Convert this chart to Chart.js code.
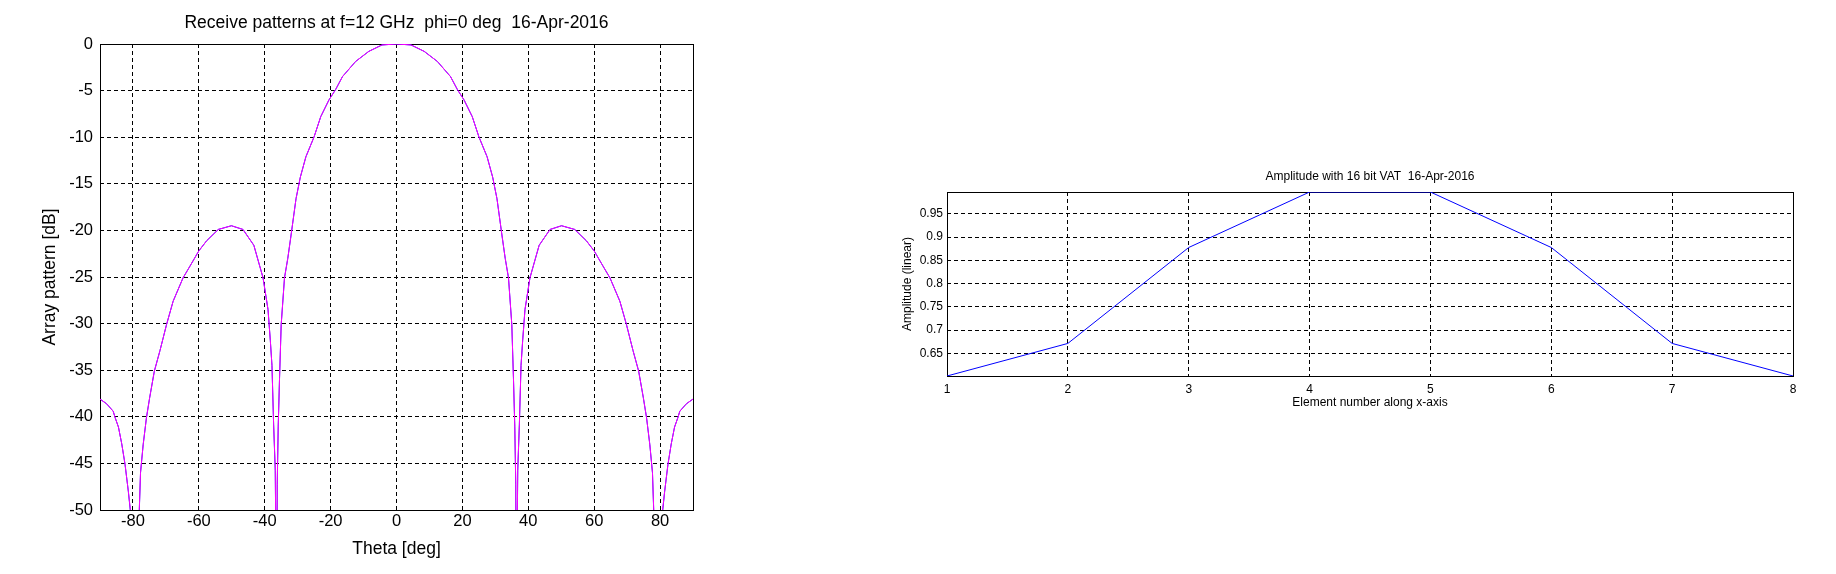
<!DOCTYPE html>
<html lang="en">
<head>
    <meta charset="UTF-8">
    <title>Receive patterns and amplitude taper</title>
    <script src="https://cdn.jsdelivr.net/npm/chart.js"></script>
    <style>
        html, body { margin: 0; padding: 0; background: #fff; }
        body { width: 1836px; height: 574px; position: relative; overflow: hidden; }
        #patternChart { position: absolute; left: 0; top: 0; }
        #amplitudeChart { position: absolute; left: 860px; top: 150px; }
    </style>
</head>
<body>

<canvas id="patternChart" width="780" height="574"></canvas>
<canvas id="amplitudeChart" width="976" height="274"></canvas>

<script>
// ---- left plot: receive pattern (dB) vs theta ----
const thetaDeg = [
    -90, -88, -86, -85.4, -84.4, -83.4, -82.4, -81.4, -80.7, -79.4, -78.1, -77.7, -76.9, -75.9, -74.9,
    -73.5, -71.8, -69.8, -67.8, -64.8, -62.3, -60, -57.6, -54.1, -50.1, -46.6, -43.3, -40.5, -39, -38.3,
    -37.8, -37.3, -36.8, -36.35, -36.2, -35.9, -35.5, -35, -34, -33, -32, -30.5, -29.2, -27.5, -25,
    -23, -20.5, -18.5, -16.4, -12.4, -8.4, -4.4, 0,
    4.4, 8.4, 12.4, 16.4, 18.5, 20.5, 23, 25, 27.5, 29.2, 30.5, 32, 33, 34, 35,
    35.5, 35.9, 36.2, 36.35, 36.8, 37.3, 37.8, 38.3, 39, 40.5, 43.3, 46.6, 50.1, 54.1, 57.6,
    60, 62.3, 64.8, 67.8, 69.8, 71.8, 73.5, 74.9, 75.9, 76.9, 77.7, 78.1, 79.4, 80.7, 81.4,
    82.4, 83.4, 84.4, 85.4, 86, 88, 90
];
const magentaDb = [
    -38.1, -38.6, -39.4, -40.1, -41.1, -42.9, -45.1, -48.0, -50.2, -65, -50.2, -46.0, -43.0, -40.1, -37.9,
    -35.1, -32.9, -30.1, -27.6, -25.1, -23.6, -22.2, -21.1, -19.9, -19.5, -19.9, -21.6, -25.1, -28.5, -31.8,
    -34.5, -40.8, -45.5, -65, -47, -41, -35.8, -30.1, -25.1, -23.0, -20.5, -16.6, -14.3, -12.1, -9.95,
    -7.8, -6.0, -4.9, -3.5, -1.87, -0.79, -0.1, 0,
    -0.1, -0.79, -1.87, -3.5, -4.9, -6.0, -7.8, -9.95, -12.1, -14.3, -16.6, -20.5, -23.0, -25.1, -30.1,
    -35.8, -41, -47, -65, -45.5, -40.8, -34.5, -31.8, -28.5, -25.1, -21.6, -19.9, -19.5, -19.9, -21.1,
    -22.2, -23.6, -25.1, -27.6, -30.1, -32.9, -35.1, -37.9, -40.1, -43.0, -46.0, -50.2, -65, -50.2, -48.0,
    -45.1, -42.9, -41.1, -40.1, -39.4, -38.6, -38.1
];
// blue trace sits under the magenta one, only the nulls differ a little
const blueDb = [
    -38.1, -38.6, -39.4, -40.1, -41.1, -42.9, -45.1, -48.0, -50.4, -64, -50.4, -46.0, -43.0, -40.1, -37.9,
    -35.1, -32.9, -30.1, -27.6, -25.1, -23.6, -22.2, -21.1, -19.9, -19.5, -19.9, -21.6, -25.1, -28.5, -31.8,
    -34.5, -40.8, -45.8, -64, -47.3, -41, -35.8, -30.1, -25.1, -23.0, -20.5, -16.6, -14.3, -12.1, -9.95,
    -7.8, -6.0, -4.9, -3.5, -1.87, -0.79, -0.1, 0,
    -0.1, -0.79, -1.87, -3.5, -4.9, -6.0, -7.8, -9.95, -12.1, -14.3, -16.6, -20.5, -23.0, -25.1, -30.1,
    -35.8, -41, -47.3, -64, -45.8, -40.8, -34.5, -31.8, -28.5, -25.1, -21.6, -19.9, -19.5, -19.9, -21.1,
    -22.2, -23.6, -25.1, -27.6, -30.1, -32.9, -35.1, -37.9, -40.1, -43.0, -46.0, -50.4, -64, -50.4, -48.0,
    -45.1, -42.9, -41.1, -40.1, -39.4, -38.6, -38.1
];
const thetaTicks = [-80, -60, -40, -20, 0, 20, 40, 60, 80];
const dbTicks = [-50, -45, -40, -35, -30, -25, -20, -15, -10, -5, 0];

// ---- right plot: element amplitudes ----
const elementNumber = [1, 2, 3, 4, 5, 6, 7, 8];
const amplitude = [0.6015, 0.6715, 0.8777, 0.997, 0.997, 0.8777, 0.6715, 0.6015];
const elementTicks = [1, 2, 3, 4, 5, 6, 7, 8];
const amplitudeTicks = [0.65, 0.7, 0.75, 0.8, 0.85, 0.9, 0.95];

Chart.defaults.font.family = '"Liberation Sans", Arial, sans-serif';
Chart.defaults.color = '#000';

// draws the closed black box around the axes and a title centred on the plot area
const matlabAxes = {
    id: 'matlabAxes',
    beforeDatasetsDraw(chart) {
        const { ctx, chartArea: a } = chart;
        ctx.save();
        ctx.strokeStyle = '#000';
        ctx.lineWidth = 1;
        ctx.strokeRect(Math.round(a.left) + 0.5, Math.round(a.top) + 0.5,
            Math.round(a.right) - Math.round(a.left), Math.round(a.bottom) - Math.round(a.top));
        ctx.restore();
    },
    afterDraw(chart, args, opts) {
        const { ctx, chartArea: a } = chart;
        ctx.save();
        ctx.font = opts.font;
        ctx.fillStyle = '#000';
        ctx.textAlign = 'center';
        ctx.textBaseline = 'middle';
        ctx.fillText(opts.text, (a.left + a.right) / 2, opts.y);
        ctx.restore();
    }
};

const toXY = (xs, ys) => xs.map((x, i) => ({ x: x, y: ys[i] }));

new Chart(document.getElementById('patternChart'), {
    type: 'line',
    data: {
        datasets: [
            { data: toXY(thetaDeg, magentaDb), borderColor: '#ff00ff', borderWidth: 1, pointRadius: 0, order: 0 },
            { data: toXY(thetaDeg, blueDb), borderColor: '#0000ff', borderWidth: 1, pointRadius: 0, order: 1 }
        ]
    },
    options: {
        responsive: false,
        animation: false,
        devicePixelRatio: 1,
        layout: { padding: { left: 0, right: 87, top: 44, bottom: 0 } },
        plugins: {
            legend: { display: false },
            tooltip: { enabled: false },
            matlabAxes: {
                text: 'Receive patterns at f=12 GHz  phi=0 deg  16-Apr-2016',
                font: '17.5px "Liberation Sans", Arial, sans-serif',
                y: 23.5
            }
        },
        scales: {
            x: {
                type: 'linear',
                min: -90,
                max: 90,
                afterBuildTicks: axis => { axis.ticks = thetaTicks.map(v => ({ value: v })); },
                afterFit: axis => { axis.height = 64; },
                ticks: { padding: 2, font: { size: 16.5 }, callback: v => String(v) },
                grid: { color: '#000', lineWidth: 1, drawTicks: false },
                border: { display: false, dash: [4, 3] },
                title: { display: true, text: 'Theta [deg]', font: { size: 17.5 }, padding: { top: 0, bottom: 14 } }
            },
            y: {
                type: 'linear',
                min: -50,
                max: 0,
                afterBuildTicks: axis => { axis.ticks = dbTicks.map(v => ({ value: v })); },
                afterFit: axis => { axis.width = 100; },
                ticks: { padding: 7, font: { size: 16.5 }, callback: v => String(v) },
                grid: { color: '#000', lineWidth: 1, drawTicks: false },
                border: { display: false, dash: [4, 3] },
                title: { display: true, text: 'Array pattern [dB]', font: { size: 17.5 }, padding: { top: 39.5, bottom: 0 } }
            }
        }
    },
    plugins: [matlabAxes]
});

new Chart(document.getElementById('amplitudeChart'), {
    type: 'line',
    data: {
        datasets: [
            { data: toXY(elementNumber, amplitude), borderColor: '#0000ff', borderWidth: 1, pointRadius: 0 }
        ]
    },
    options: {
        responsive: false,
        animation: false,
        devicePixelRatio: 1,
        layout: { padding: { left: 0, right: 43, top: 42, bottom: 0 } },
        plugins: {
            legend: { display: false },
            tooltip: { enabled: false },
            matlabAxes: {
                text: 'Amplitude with 16 bit VAT  16-Apr-2016',
                font: '12px "Liberation Sans", Arial, sans-serif',
                y: 26.7
            }
        },
        scales: {
            x: {
                type: 'linear',
                min: 1,
                max: 8,
                afterBuildTicks: axis => { axis.ticks = elementTicks.map(v => ({ value: v })); },
                afterFit: axis => { axis.height = 48; },
                ticks: { padding: 6, font: { size: 12 }, callback: v => String(v) },
                grid: { color: '#000', lineWidth: 1, drawTicks: false },
                border: { display: false, dash: [4, 3] },
                title: { display: true, text: 'Element number along x-axis', font: { size: 12 }, padding: { top: 0, bottom: 14.5 } }
            },
            y: {
                type: 'linear',
                min: Math.min(...amplitude),
                max: Math.max(...amplitude),
                afterBuildTicks: axis => { axis.ticks = amplitudeTicks.map(v => ({ value: v })); },
                afterFit: axis => { axis.width = 87; },
                ticks: { padding: 4, font: { size: 12 }, callback: v => String(+v.toFixed(2)) },
                grid: { color: '#000', lineWidth: 1, drawTicks: false },
                border: { display: false, dash: [4, 3] },
                title: { display: true, text: 'Amplitude (linear)', font: { size: 12 }, padding: { top: 40, bottom: 0 } }
            }
        }
    },
    plugins: [matlabAxes]
});
</script>
</body>
</html>
